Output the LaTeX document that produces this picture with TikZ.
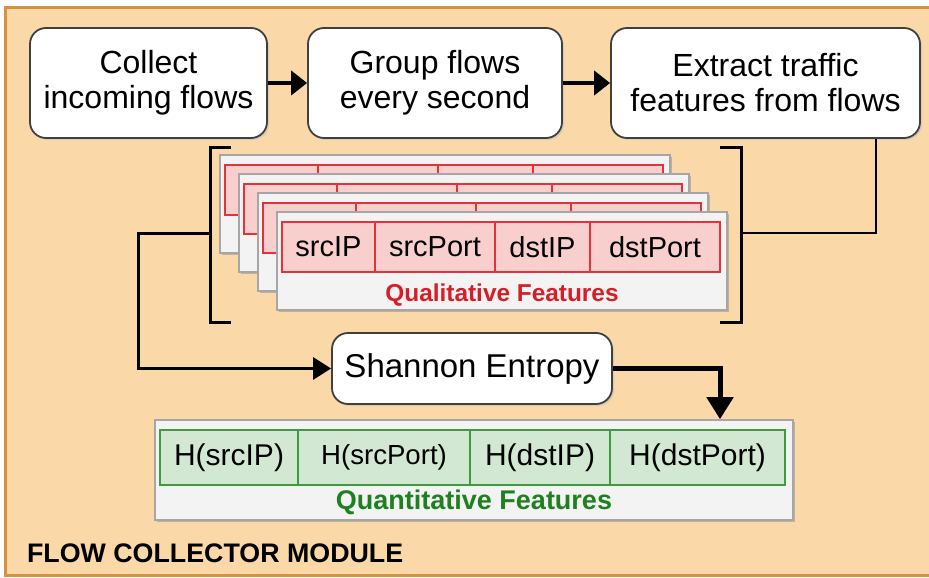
\documentclass[tikz,border=0pt]{standalone}
\usepackage{fontspec}
\setmainfont{Liberation Sans}
\usepackage{tikz}
\usetikzlibrary{positioning, arrows.meta, shadows}
\usepackage{xcolor}
\definecolor{frameorange}{HTML}{FAD8A8}
\definecolor{frameedge}{HTML}{D8923C}
\definecolor{qualred}{HTML}{E2333B}
\definecolor{qualfill}{HTML}{F8CFCD}
\definecolor{qualtext}{HTML}{D61E28}
\definecolor{quantgreen}{HTML}{3E9B3E}
\definecolor{quantfill}{HTML}{D3E8D2}
\definecolor{quanttext}{HTML}{1F8020}
\definecolor{cardgray}{HTML}{F3F3F3}

\begin{document}
\begin{tikzpicture}[
    x=0.5pt, y=-0.5pt,
    procbox/.style={draw=black!75, fill=white, rounded corners=8pt, line width=0.9pt,
        align=center, inner sep=0pt, font=\fontsize{16}{17.5}\selectfont,
        drop shadow={shadow xshift=1pt, shadow yshift=-1pt, fill=black!25}},
    cardbox/.style={draw=black!35, fill=cardgray, line width=0.8pt, inner sep=0pt,
        drop shadow={shadow xshift=1.2pt, shadow yshift=-1.2pt, fill=black!45}},
    qualcell/.style={draw=qualred, fill=qualfill, line width=0.9pt, inner sep=0pt,
        minimum height=25pt, font=\fontsize{14.5}{15}\selectfont},
    quantcell/.style={draw=quantgreen, fill=quantfill, line width=0.9pt, inner sep=0pt,
        minimum height=27.5pt, font=\fontsize{15}{16}\selectfont},
    flowarrow/.style={line width=2pt, -{Triangle[length=8pt, width=12pt]}},
    thinline/.style={line width=1pt},
    bracketline/.style={line width=1.5pt}
]
    \useasboundingbox (0,0) rectangle (929,577);
    \clip (0,0) rectangle (929,577);
    \fill[white] (0,0) rectangle (929,577);

    % module frame
    \draw[fill=frameorange, draw=frameedge, line width=1.5pt] (5,8) rectangle (940,575);
    \node[anchor=west, font=\bfseries\fontsize{13.4}{14}\selectfont] (modname) at (20,553) {FLOW COLLECTOR MODULE};

    % processing steps
    \node[procbox, minimum width=118.5pt, minimum height=55pt] (collect) at (148.5,83) {Collect\\incoming flows};
    \node[procbox, minimum width=127pt, minimum height=55pt] (group) at (435,83) {Group flows\\every second};
    \node[procbox, minimum width=154.5pt, minimum height=55pt] (extract) at (765.5,83) {Extract traffic\\features from flows};

    \draw[flowarrow] (collect) -- (group);
    \draw[flowarrow] (group) -- (extract);

    % stacked cards behind, only their top rows show
    \foreach \i/\d in {0/57, 1/38, 2/19} {
        \node[cardbox, minimum width=225pt, minimum height=49pt] (card\i) at (502-\d,261-\d) {};
        \node[qualcell, minimum width=46.5pt] (srcip\i) at (328.5-\d,247-\d) {};
        \node[qualcell, minimum width=60pt] (srcport\i) at (435-\d,247-\d) {};
        \node[qualcell, minimum width=47.5pt] (dstip\i) at (542.5-\d,247-\d) {};
        \node[qualcell, minimum width=65pt] (dstport\i) at (655-\d,247-\d) {};
    }

    % front card
    \node[cardbox, minimum width=225pt, minimum height=49pt] (card3) at (502,261) {};
    \node[qualcell, minimum width=46.5pt] (srcip) at (328.5,247) {srcIP};
    \node[qualcell, minimum width=60pt] (srcport) at (435,247) {srcPort};
    \node[qualcell, minimum width=47.5pt] (dstip) at (542.5,247) {dstIP};
    \node[qualcell, minimum width=65pt] (dstport) at (655,247) {dstPort};
    \node[text=qualtext, font=\bfseries\fontsize{12.2}{13}\selectfont] (quallabel) at (502,295) {Qualitative Features};

    % brackets round the stack
    \draw[bracketline] (231,148) -- (210,148) -- (210,322) -- (231,322);
    \draw[bracketline] (720,148) -- (741,148) -- (741,322) -- (720,322);
    \coordinate (lbrack) at (210,233);
    \coordinate (rbrack) at (741,233);

    \draw[thinline] (rbrack) -| ([xshift=55pt]extract.south);

    % entropy step
    \node[procbox, minimum width=140pt, minimum height=35.5pt, font=\fontsize{16.5}{17}\selectfont] (entropy) at (472,368.5) {Shannon Entropy};
    \draw[line width=1.5pt, -{Triangle[length=9pt, width=11pt]}] (lbrack) -- ++(-72,0) |- (entropy.west);

    % quantitative feature card
    \node[cardbox, minimum width=319pt, minimum height=50pt] (quantcard) at (474,470) {};
    \node[quantcell, minimum width=69pt] (hsrcip) at (229,457.5) {H(srcIP)};
    \node[quantcell, minimum width=86pt, font=\fontsize{13.8}{14}\selectfont] (hsrcport) at (384,457.5) {H(srcPort)};
    \node[quantcell, minimum width=70pt] (hdstip) at (540,457.5) {H(dstIP)};
    \node[quantcell, minimum width=87.5pt] (hdstport) at (697.5,457.5) {H(dstPort)};
    \node[text=quanttext, font=\bfseries\fontsize{13.5}{14}\selectfont] (quantlabel) at (474,502) {Quantitative Features};

    \draw[line width=2.5pt, -{Triangle[length=11pt, width=13pt]}] (entropy.east) -| ([xshift=123pt]quantcard.north);
\end{tikzpicture}
\end{document}
